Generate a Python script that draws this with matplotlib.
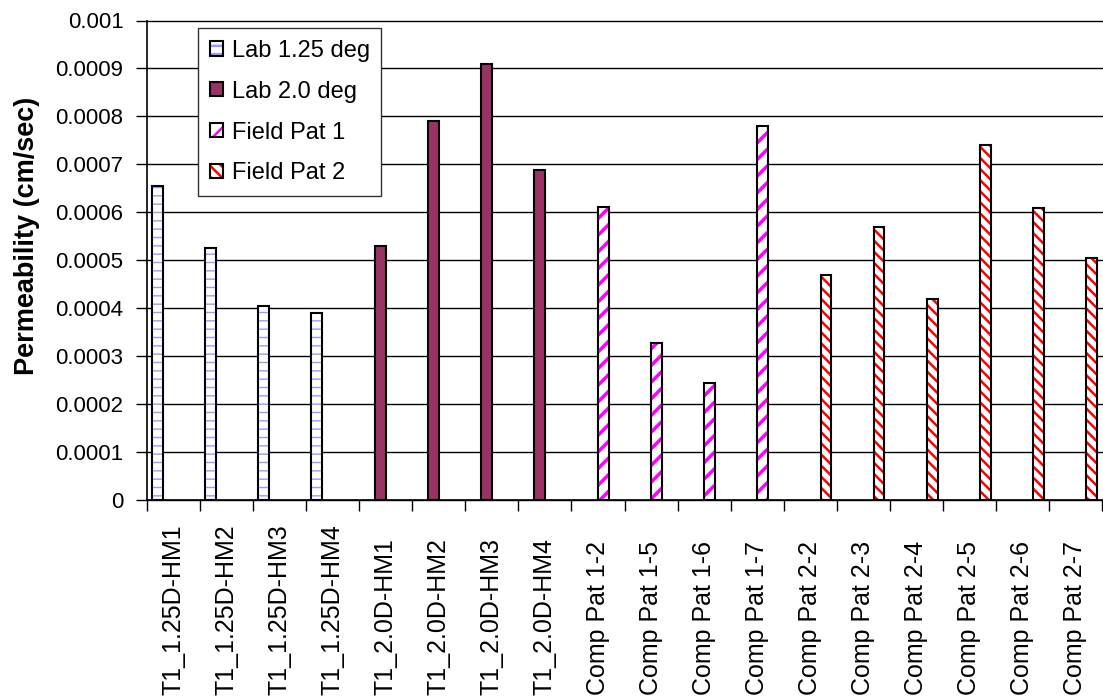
import numpy as np
import matplotlib
matplotlib.use("Agg")
import matplotlib.pyplot as plt
from matplotlib.legend_handler import HandlerTuple

plt.rcParams['font.family'] = ['Liberation Sans', 'DejaVu Sans']

categories = ['T1_1.25D-HM1', 'T1_1.25D-HM2', 'T1_1.25D-HM3', 'T1_1.25D-HM4',
              'T1_2.0D-HM1', 'T1_2.0D-HM2', 'T1_2.0D-HM3', 'T1_2.0D-HM4',
              'Comp Pat 1-2', 'Comp Pat 1-5', 'Comp Pat 1-6', 'Comp Pat 1-7',
              'Comp Pat 2-2', 'Comp Pat 2-3', 'Comp Pat 2-4', 'Comp Pat 2-5',
              'Comp Pat 2-6', 'Comp Pat 2-7']

lab_125 = [0.000655, 0.000525, 0.000405, 0.00039] + [0] * 14
lab_20 = [0] * 4 + [0.00053, 0.00079, 0.00091, 0.000688] + [0] * 10
field_1 = [0] * 8 + [0.000612, 0.000328, 0.000245, 0.00078] + [0] * 6
field_2 = [0] * 12 + [0.00047, 0.00057, 0.00042, 0.00074, 0.000608, 0.000505]

series = [
    ("Lab 1.25 deg", lab_125, "white", "#9999ff", "--", 1.0),
    ("Lab 2.0 deg", lab_20, "#993366", None, None, 0),
    ("Field Pat 1", field_1, "white", "#ff00ff", "//", 2.5),
    ("Field Pat 2", field_2, "white", "#ff0000", "\\\\\\", 1.8),
]

fig = plt.figure(figsize=(11.03, 6.98), dpi=100)
ax = fig.add_axes([147 / 1103, 1 - 500 / 698, 955 / 1103, 479.5 / 698])

x = np.arange(len(categories))
w = 0.2
handles = []
for i, (name, vals, fc, hc, hatch, hlw) in enumerate(series):
    vals = np.array(vals)
    keep = vals > 0
    pos = (x - 0.3 + i * w)[keep]
    vals = vals[keep]
    if hatch:
        plt.rcParams['hatch.linewidth'] = hlw
        under = ax.bar(pos, vals, w, color=fc, edgecolor=hc, hatch=hatch,
                       linewidth=0, zorder=3)
        for b in under:
            if hasattr(b, 'set_hatch_linewidth'):
                b.set_hatch_linewidth(hlw)
        top = ax.bar(pos, vals, w, facecolor='none', edgecolor='black',
                     linewidth=1.5, zorder=4)
        handles.append((under, top))
    else:
        top = ax.bar(pos, vals, w, color=fc, edgecolor='black',
                     linewidth=1.5, zorder=4)
        handles.append(top)

ax.set_xlim(-0.5, len(categories) - 0.5)
ax.set_ylim(0, 0.001)
yt = np.arange(0, 0.00105, 0.0001)
ax.set_yticks(yt)
ax.set_yticklabels(['%g' % round(v, 4) for v in yt], fontsize=16)
ax.yaxis.grid(True, color='black', linewidth=1, zorder=0)
for gl in ax.yaxis.get_gridlines():
    gl.set_clip_on(False)
ax.tick_params(axis='y', direction='out', length=8, width=1, pad=9)

# category boundaries get the tick marks, names sit bottom-aligned below
ax.set_xticks([])
ax.set_xticks(np.arange(-0.5, len(categories)), minor=True)
ax.tick_params(axis='x', which='minor', direction='out', length=8, width=1,
               labelbottom=False)
for xi, name in zip(x, categories):
    ax.text(xi, -195 / 479.5, name, rotation=90, ha='center', va='bottom',
            fontsize=18, transform=ax.get_xaxis_transform())

for s in ['top', 'right']:
    ax.spines[s].set_visible(False)
ax.spines['left'].set_linewidth(1.2)
ax.spines['bottom'].set_linewidth(1.2)
ax.set_axisbelow(True)

ax.set_ylabel("Permeability (cm/sec)", fontsize=19.5, fontweight='bold')
ax.yaxis.set_label_coords(-0.112, 0.551)

leg = fig.legend(handles, [s[0] for s in series], loc='upper left',
                 bbox_to_anchor=(198 / 1103, 1 - 28 / 698), borderaxespad=0,
                 fontsize=17, handlelength=0.55, handleheight=0.55,
                 handletextpad=0.37, labelspacing=0.8, borderpad=0.5,
                 fancybox=False, framealpha=1, edgecolor='#333333',
                 handler_map={tuple: HandlerTuple(ndivide=1, pad=0)})
leg.get_frame().set_linewidth(1)

fig.savefig("out.png", dpi=100)
